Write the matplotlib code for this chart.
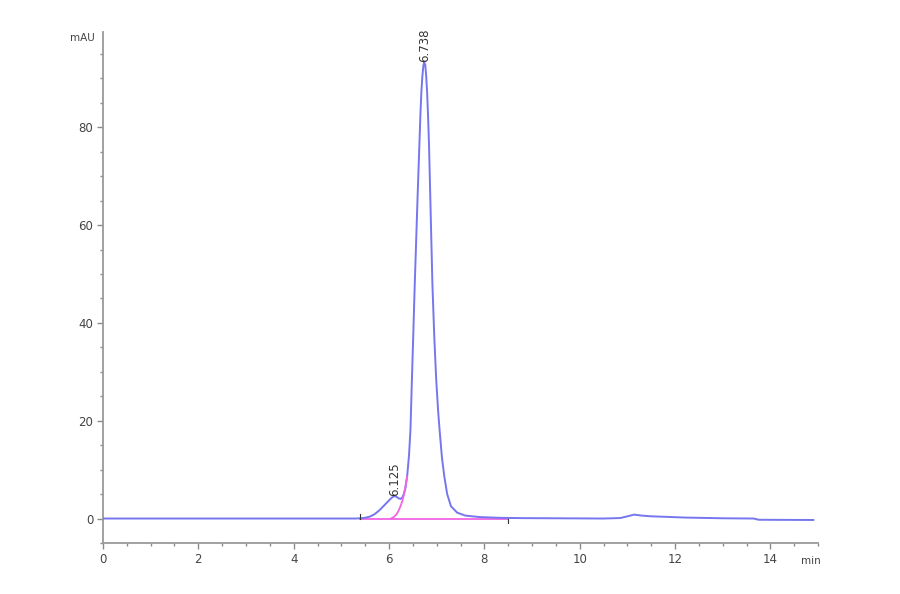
import matplotlib
matplotlib.use("Agg")
import matplotlib.pyplot as plt
from matplotlib.ticker import MultipleLocator

# Chromatogram trace (min, mAU)
time_min = [0.0, 5.30, 5.40, 5.50, 5.60, 5.70, 5.80, 5.90, 6.00, 6.05, 6.10,
            6.15, 6.20, 6.24, 6.28, 6.31, 6.34, 6.38, 6.42, 6.45, 6.48, 6.51,
            6.54, 6.57, 6.60, 6.63, 6.66, 6.68, 6.70, 6.72, 6.738, 6.76, 6.78,
            6.80, 6.82, 6.84, 6.86, 6.88, 6.91, 6.95, 6.99, 7.03, 7.06, 7.11,
            7.16, 7.22, 7.30, 7.43, 7.60, 7.90, 8.30, 8.80, 9.50, 10.50,
            10.85, 11.00, 11.14, 11.30, 11.50, 11.80, 12.20, 13.00, 13.65,
            13.75, 14.90]
signal_mau = [0.0, 0.0, 0.05, 0.15, 0.4, 0.9, 1.7, 2.7, 3.7, 4.2, 4.55,
              4.5, 4.15, 4.0, 4.3, 5.0, 6.0, 8.6, 13.0, 18.2, 28.4, 38.0,
              48.0, 57.0, 66.0, 74.5, 83.0, 87.5, 90.5, 92.6, 93.3, 92.8, 90.5,
              87.0, 82.0, 76.0, 68.0, 60.0, 48.0, 37.0, 28.4, 22.0, 18.2, 12.5,
              8.6, 5.0, 2.5, 1.2, 0.6, 0.3, 0.15, 0.08, 0.05, 0.0,
              0.1, 0.45, 0.8, 0.6, 0.45, 0.35, 0.2, 0.05, 0.0,
              -0.25, -0.3]

# Integration baseline and peak-split fit (pink)
baseline_t = [5.40, 8.50]
baseline_v = [0.0, 0.0]
split_t = [6.04, 6.10, 6.16, 6.20, 6.24, 6.28, 6.31, 6.34, 6.38]
split_v = [0.0, 0.3, 0.9, 1.6, 2.5, 3.6, 4.8, 6.3, 8.6]

# Integration event marks
event_t = [5.40, 8.50]
event_dir = [1, -1]

# Peak labels
peak_rt = [6.125, 6.738]
peak_h = [4.6, 93.3]
peak_lbl = ["6.125", "6.738"]

x_ticks = [0, 2, 4, 6, 8, 10, 12, 14]
y_ticks = [0, 20, 40, 60, 80]

fig = plt.figure(figsize=(9, 5.94), dpi=100)
ax = fig.add_axes([0.1144, 0.0859, 0.7946, 0.8602])

ax.plot(time_min, signal_mau, color="#7676ee", lw=1.4, zorder=3,
        solid_joinstyle="round")
ax.plot(baseline_t, baseline_v, color="#f064e4", lw=1.3, zorder=2)
ax.plot(split_t, split_v, color="#f064e4", lw=1.3, zorder=4)

for t, d in zip(event_t, event_dir):
    ax.plot([t, t], [0, 1.0 * d], color="#333333", lw=0.8, zorder=5)

for t, h, s in zip(peak_rt, peak_h, peak_lbl):
    ax.annotate(s, xy=(t, h), xytext=(0, 0), textcoords="offset points",
                rotation=90, ha="center", va="bottom", fontsize=8.5,
                color="#333333")

ax.set_xlim(0, 15)
ax.set_ylim(-5, 99.5)
ax.set_xticks(x_ticks)
ax.set_yticks(y_ticks)
ax.xaxis.set_minor_locator(MultipleLocator(0.5))
ax.yaxis.set_minor_locator(MultipleLocator(5))

for side in ["top", "right"]:
    ax.spines[side].set_visible(False)
for side in ["left", "bottom"]:
    ax.spines[side].set_color("#9a9a9a")
    ax.spines[side].set_linewidth(1.3)

ax.tick_params(which="major", length=4, width=1, color="#8a8a8a",
               labelsize=8.5, labelcolor="#444444", pad=3)
ax.tick_params(which="minor", length=2.5, width=1, color="#8a8a8a")

fig.text(82 / 900, 1 - 38 / 594, "mAU", fontsize=7.5, color="#444444",
         ha="center", va="center")
fig.text(811 / 900, 1 - 561 / 594, "min", fontsize=7.5, color="#444444",
         ha="center", va="center")

fig.savefig("out.png", dpi=100, facecolor="white")
